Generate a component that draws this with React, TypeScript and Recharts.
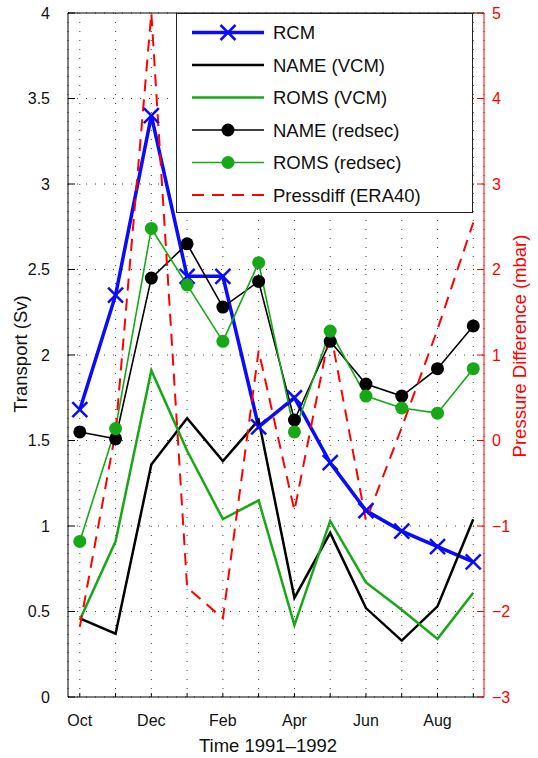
import React from "react";
import {
  ComposedChart,
  Line,
  XAxis,
  YAxis,
  CartesianGrid,
  Legend,
  ReferenceLine,
} from "recharts";

// months, Oct 1991 .. Sep 1992
const months = ["Oct", "Nov", "Dec", "Jan", "Feb", "Mar", "Apr", "May", "Jun", "Jul", "Aug", "Sep"];

// transport (Sv), left axis
const rcm = [1.68, 2.35, 3.4, 2.46, 2.46, 1.58, 1.75, 1.37, 1.09, 0.97, 0.88, 0.79];
const nameVcm = [0.46, 0.37, 1.36, 1.63, 1.38, 1.62, 0.58, 0.96, 0.52, 0.33, 0.53, 1.04];
const romsVcm = [0.45, 0.91, 1.91, 1.44, 1.04, 1.15, 0.42, 1.03, 0.67, 0.51, 0.34, 0.61];
const nameRedsec = [1.55, 1.51, 2.45, 2.65, 2.28, 2.43, 1.62, 2.08, 1.83, 1.76, 1.92, 2.17];
const romsRedsec = [0.91, 1.57, 2.74, 2.41, 2.08, 2.54, 1.55, 2.14, 1.76, 1.69, 1.66, 1.92];

// pressure difference (mbar), right axis
const pressdiff = [-2.18, 0.1, 5.0, -1.72, -2.08, 1.05, -0.82, 1.29, -0.94, 0.15, 1.3, 2.55];

const monthTicks = months.map((_, i) => i);
const leftTicks = [0, 0.5, 1, 1.5, 2, 2.5, 3, 3.5, 4];
const rightTicks = [-3, -2, -1, 0, 1, 2, 3, 4, 5];

const FONT = '"Liberation Sans", Arial, Helvetica, sans-serif';
const BLUE = "#0a0aff";
const GREEN = "#17a817";
const RED = "#ff0000";
const GRID = "#444";

const data = months.map((m, i) => ({
  i,
  month: m,
  rcm: rcm[i],
  nameVcm: nameVcm[i],
  romsVcm: romsVcm[i],
  nameRedsec: nameRedsec[i],
  romsRedsec: romsRedsec[i],
  pressdiff: pressdiff[i],
}));

const legendItems = [
  { name: "RCM", color: BLUE, width: 3.5, marker: "x" },
  { name: "NAME (VCM)", color: "#000", width: 2.5, marker: "none" },
  { name: "ROMS (VCM)", color: GREEN, width: 2.5, marker: "none" },
  { name: "NAME (redsec)", color: "#000", width: 1.6, marker: "o" },
  { name: "ROMS (redsec)", color: GREEN, width: 1.6, marker: "o" },
  { name: "Pressdiff (ERA40)", color: RED, width: 2, marker: "dash" },
];

const XMark = (props: any) => {
  const { cx, cy, index } = props;
  if (cx == null || cy == null) return <g key={index} />;
  const s = 7.5;
  return (
    <g key={index}>
      <line x1={cx - s} y1={cy - s} x2={cx + s} y2={cy + s} stroke={BLUE} strokeWidth={2.5} />
      <line x1={cx - s} y1={cy + s} x2={cx + s} y2={cy - s} stroke={BLUE} strokeWidth={2.5} />
    </g>
  );
};

const LegendBox = () => (
  <div
    style={{
      width: 297,
      height: 200,
      boxSizing: "border-box",
      border: "1.3px solid #222",
      background: "#fff",
    }}
  >
    <svg width={295} height={198}>
      {legendItems.map((it, k) => {
        const y = 18.5 + k * 32.5;
        return (
          <g key={it.name}>
            <line
              x1={15}
              x2={87}
              y1={y}
              y2={y}
              stroke={it.color}
              strokeWidth={it.width}
              strokeDasharray={it.marker === "dash" ? "12 8" : undefined}
            />
            {it.marker === "x" && (
              <g>
                <line x1={43.5} y1={y - 7.5} x2={58.5} y2={y + 7.5} stroke={BLUE} strokeWidth={2.5} />
                <line x1={43.5} y1={y + 7.5} x2={58.5} y2={y - 7.5} stroke={BLUE} strokeWidth={2.5} />
              </g>
            )}
            {it.marker === "o" && <circle cx={51} cy={y} r={6.5} fill={it.color} />}
            <text x={96} y={y + 6.5} fontSize={18.5} fontFamily={FONT} fill="#111">
              {it.name}
            </text>
          </g>
        );
      })}
    </svg>
  </div>
);

const minus = (v: number) => (v < 0 ? `\u2212${Math.abs(v)}` : `${v}`);

export default function App() {
  return (
    <div style={{ position: "absolute", left: 0, top: 0, width: 538, height: 758, background: "#fff", fontFamily: FONT }}>
      <ComposedChart width={538} height={758} data={data} margin={{ top: 13, right: 0, bottom: 0, left: 0 }}>
        <CartesianGrid stroke={GRID} strokeDasharray="1 8" strokeWidth={1} />
        <XAxis
          type="number"
          dataKey="i"
          domain={[-0.33, 11.3]}
          ticks={monthTicks}
          tickFormatter={(v: number) => (v % 2 === 0 ? months[v] : "")}
          height={61}
          tickSize={-4}
          tickMargin={22}
          stroke="#000"
          tick={{ fill: "#111", fontSize: 16, fontFamily: FONT }}
          interval={0}
        />
        <YAxis
          yAxisId={0}
          domain={[0, 4]}
          ticks={leftTicks}
          width={68}
          tickSize={-7}
          tickMargin={25}
          stroke="#000"
          tick={{ fill: "#111", fontSize: 16, fontFamily: FONT }}
          interval={0}
        />
        <YAxis
          yAxisId="p"
          orientation="right"
          domain={[-3, 5]}
          ticks={rightTicks}
          width={54}
          tickSize={-7}
          tickMargin={15}
          stroke={RED}
          tickFormatter={minus}
          tick={{ fill: RED, fontSize: 16, fontFamily: FONT }}
          interval={0}
        />
        <ReferenceLine y={4} yAxisId={0} stroke="#000" strokeWidth={1} />
        <Line dataKey="rcm" yAxisId={0} stroke={BLUE} strokeWidth={3.5} dot={XMark} isAnimationActive={false} />
        <Line dataKey="nameVcm" yAxisId={0} stroke="#000" strokeWidth={2.5} dot={false} isAnimationActive={false} />
        <Line dataKey="romsVcm" yAxisId={0} stroke={GREEN} strokeWidth={2.5} dot={false} isAnimationActive={false} />
        <Line
          dataKey="nameRedsec"
          yAxisId={0}
          stroke="#000"
          strokeWidth={1.6}
          dot={{ r: 6.5, fill: "#000", stroke: "none" }}
          isAnimationActive={false}
        />
        <Line
          dataKey="romsRedsec"
          yAxisId={0}
          stroke={GREEN}
          strokeWidth={1.6}
          dot={{ r: 6.5, fill: GREEN, stroke: "none" }}
          isAnimationActive={false}
        />
        <Line
          dataKey="pressdiff"
          yAxisId="p"
          stroke={RED}
          strokeWidth={2}
          strokeDasharray="12 8"
          dot={false}
          isAnimationActive={false}
        />
        <Legend
          layout="vertical"
          align="center"
          verticalAlign="middle"
          content={() => <LegendBox />}
          wrapperStyle={{ left: 176, top: 13, width: 297, height: 200 }}
        />
      </ComposedChart>
      <div
        style={{
          position: "absolute",
          left: 21,
          top: 354,
          transform: "translate(-50%, -50%) rotate(-90deg)",
          whiteSpace: "nowrap",
          fontSize: 18.5,
          color: "#111",
        }}
      >
        Transport (Sv)
      </div>
      <div
        style={{
          position: "absolute",
          left: 520,
          top: 346,
          transform: "translate(-50%, -50%) rotate(-90deg)",
          whiteSpace: "nowrap",
          fontSize: 18.5,
          color: RED,
        }}
      >
        Pressure Difference (mbar)
      </div>
      <div
        style={{
          position: "absolute",
          left: 268,
          top: 746,
          transform: "translate(-50%, -50%)",
          whiteSpace: "nowrap",
          fontSize: 18.5,
          color: "#111",
        }}
      >
        Time 1991–1992
      </div>
    </div>
  );
}
